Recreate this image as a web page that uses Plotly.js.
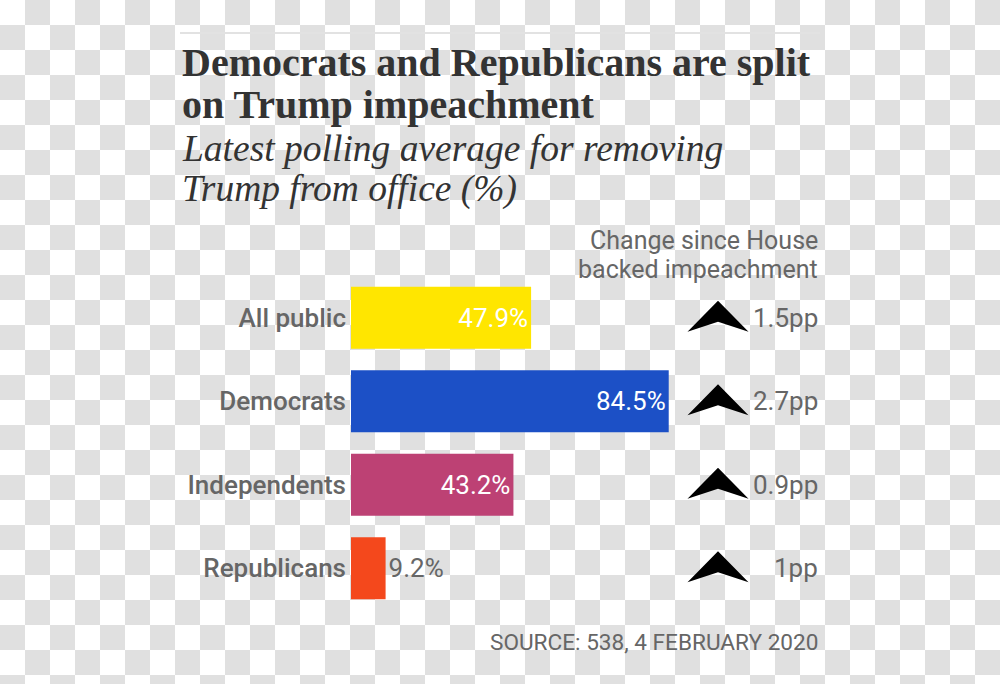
<!DOCTYPE html>
<html>
<head>
<meta charset="utf-8">
<script src="https://cdn.plot.ly/plotly-3.0.1.min.js"></script>
<style>
  html, body { margin: 0; padding: 0; }
  body {
    width: 1000px; height: 684px; overflow: hidden;
    background-color: #ffffff;
    background-image: conic-gradient(#e0e0e0 0 25%, #ffffff 0 50%, #e0e0e0 0 75%, #ffffff 0);
    background-size: 50px 50px;
    background-position: 0 0;
  }
  #chart { width: 1000px; height: 684px; }
</style>
</head>
<body>
<div id="chart"></div>
<script>
// ---- data ----
var categories = ["All public", "Democrats", "Independents", "Republicans"];
var supportValues = [47.9, 84.5, 43.2, 9.2];
var changeValues = [1.5, 2.7, 0.9, 1];
var barColors = ["#ffe600", "#1c50c6", "#bd4174", "#f4481c"];

var titleLines = ["Democrats and Republicans are split", "on Trump impeachment"];
var subtitleLines = ["Latest polling average for removing", "Trump from office (%)"];
var changeHeaderLines = ["Change since House", "backed impeachment"];
var sourceText = "SOURCE: 538, 4 FEBRUARY 2020";

// ---- layout geometry (pixels) ----
var W = 1000, H = 684;
var M = { l: 351, r: 180, t: 276, b: 74 };
var plotW = W - M.l - M.r, plotH = H - M.t - M.b;
function px(x) { return (x - M.l) / plotW; }
function py(y) { return (H - M.b - y) / plotH; }

var SANS = "Roboto, 'Liberation Sans', Arial, sans-serif";
var SERIF = "'Liberation Serif', 'Times New Roman', serif";
var GREY = "#666666";
var DARK = "#333333";

var bars = {
  type: "bar",
  orientation: "h",
  x: supportValues,
  y: categories,
  marker: { color: barColors, line: { width: 0 } },
  text: supportValues.map(function (v) { return v + "%"; }),
  textposition: "auto",
  insidetextanchor: "end",
  insidetextfont: { family: SANS, size: 26, color: "#ffffff" },
  outsidetextfont: { family: SANS, size: 26, color: GREY },
  cliponaxis: false,
  hoverinfo: "none"
};

var annotations = [];
titleLines.forEach(function (t, i) {
  annotations.push({
    text: "<b>" + t + "</b>", xref: "paper", yref: "paper",
    x: px(180), y: py([62.5, 104.5][i]), xanchor: "left", yanchor: "middle",
    showarrow: false, font: { family: SERIF, size: 40, color: DARK }
  });
});
subtitleLines.forEach(function (t, i) {
  annotations.push({
    text: "<i>" + t + "</i>", xref: "paper", yref: "paper",
    x: px(180), y: py([148, 189][i]), xanchor: "left", yanchor: "middle",
    showarrow: false, font: { family: SERIF, size: 37.5, color: DARK }
  });
});
changeHeaderLines.forEach(function (t, i) {
  annotations.push({
    text: t, xref: "paper", yref: "paper",
    x: px(820), y: py([240, 269][i]), xanchor: "right", yanchor: "middle",
    showarrow: false, font: { family: SANS, size: 25, color: GREY }
  });
});
categories.forEach(function (c, i) {
  annotations.push({
    text: changeValues[i] + "pp", xref: "paper", yref: "y",
    x: px(820), y: c, xanchor: "right", yanchor: "middle",
    showarrow: false, font: { family: SANS, size: 26, color: GREY }
  });
});
annotations.push({
  text: sourceText, xref: "paper", yref: "paper",
  x: px(820), y: py(642), xanchor: "right", yanchor: "middle",
  showarrow: false, font: { family: SANS, size: 22.6, color: GREY }
});

var shapes = [{
  type: "line", xref: "paper", yref: "paper",
  x0: px(180), x1: px(820), y0: py(33), y1: py(33),
  line: { color: "#e2e2e2", width: 2 }
}];
categories.forEach(function (c, i) {
  if (changeValues[i] > 0) {
    shapes.push({
      type: "path", xref: "paper", yref: "y",
      xsizemode: "pixel", ysizemode: "pixel",
      xanchor: px(718), yanchor: c,
      path: "M0,17 L30.5,-14 L0,-4 L-30.5,-14 Z",
      fillcolor: "#000000", line: { width: 0 }
    });
  }
});

var layout = {
  width: W, height: H,
  margin: M,
  paper_bgcolor: "rgba(0,0,0,0)",
  plot_bgcolor: "rgba(0,0,0,0)",
  showlegend: false,
  bargap: 0.257,
  xaxis: {
    range: [0, plotW / 3.76],
    showgrid: false, zeroline: false, showline: false,
    showticklabels: false, ticks: "", fixedrange: true
  },
  yaxis: {
    type: "category",
    autorange: "reversed",
    showgrid: false, zeroline: false, showline: false,
    ticks: "", ticklabelstandoff: 4,
    tickfont: { family: SANS, size: 26, color: GREY, weight: 500 },
    fixedrange: true
  },
  annotations: annotations,
  shapes: shapes,
  font: { family: SANS }
};

Plotly.newPlot("chart", [bars], layout, { displayModeBar: false, staticPlot: true });
</script>
</body>
</html>
